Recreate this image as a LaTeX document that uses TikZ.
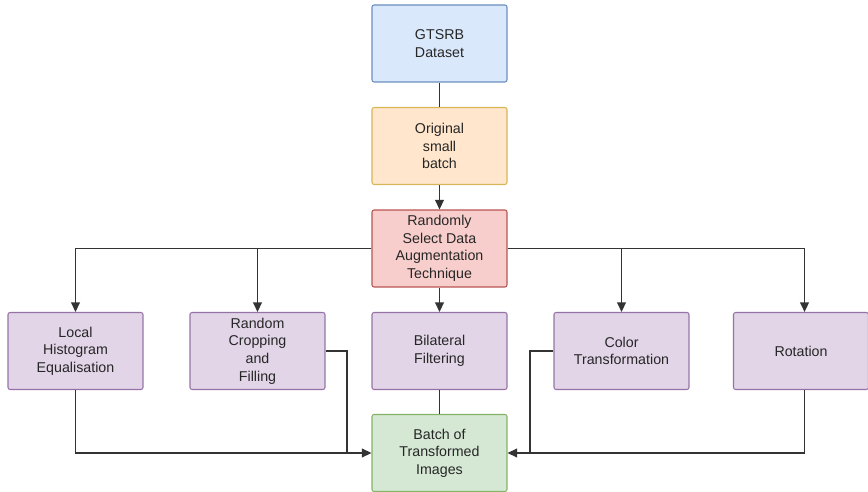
\documentclass[tikz,border=0pt]{standalone}
\usepackage{fontspec}
\setmainfont{Liberation Sans}
\usetikzlibrary{arrows.meta}

\definecolor{srcfill}{HTML}{DAE8FC}\definecolor{srcline}{HTML}{6C8EBF}
\definecolor{orgfill}{HTML}{FFE6CC}\definecolor{orgline}{HTML}{D6B656}
\definecolor{selfill}{HTML}{F8CECC}\definecolor{selline}{HTML}{B85450}
\definecolor{augfill}{HTML}{E1D5E7}\definecolor{augline}{HTML}{9673A6}
\definecolor{outfill}{HTML}{D5E8D4}\definecolor{outline}{HTML}{82B366}

\begin{document}
\begin{tikzpicture}[x=0.02cm, y=-0.02cm,
  every node/.style={font=\fontsize{8.1}{10}\selectfont, text=black!85},
  box/.style={draw, rounded corners=1.2pt, line width=0.6pt, align=center,
    minimum width=2.7cm, minimum height=1.54cm, inner sep=2pt},
  flow/.style={draw=black!80, line width=1pt},
  arr/.style={flow, -{Triangle[length=5.5pt, width=5pt]}}]
  \useasboundingbox (0,0) rectangle (868,492);

  % pipeline down the middle
  \node[box, fill=srcfill, draw=srcline] (gtsrb) at (439.5,43.5) {GTSRB\\Dataset};
  \node[box, fill=orgfill, draw=orgline] (batch0) at (439.5,146) {Original\\small\\batch};
  \node[box, fill=selfill, draw=selline] (select) at (439.5,248.5) {Randomly\\Select Data\\Augmentation\\Technique};

  % the five augmentations
  \node[box, fill=augfill, draw=augline] (lhe) at (75.5,351) {Local\\Histogram\\Equalisation};
  \node[box, fill=augfill, draw=augline] (crop) at (257.5,351) {Random\\Cropping\\and\\Filling};
  \node[box, fill=augfill, draw=augline] (bilat) at (439.5,351) {Bilateral\\Filtering};
  \node[box, fill=augfill, draw=augline] (color) at (621.5,351) {Color\\Transformation};
  \node[box, fill=augfill, draw=augline] (rot) at (801,351) {Rotation};

  \node[box, fill=outfill, draw=outline] (batch) at (439.5,453) {Batch of\\Transformed\\Images};

  \coordinate (jl) at (347,453);
  \coordinate (jr) at (530,453);

  \draw[flow] (gtsrb) -- (batch0);
  \draw[arr] (batch0) -- (select);
  \draw[arr] (select) -- (bilat);
  \draw[arr] (select.west) -| (lhe);
  \draw[arr] (select.west) -| (crop);
  \draw[arr] (select.east) -| (color);
  \draw[arr] (select.east) -| ([xshift=2]rot.north);

  % everything merges into the output batch
  \draw[flow] (bilat) -- (batch);
  \draw[arr] (lhe) |- (batch);
  \draw[flow] (crop.east) -| (jl);
  \draw[arr] ([xshift=2]rot.south) |- (batch);
  \draw[flow] (color.west) -| (jr);
\end{tikzpicture}
\end{document}
